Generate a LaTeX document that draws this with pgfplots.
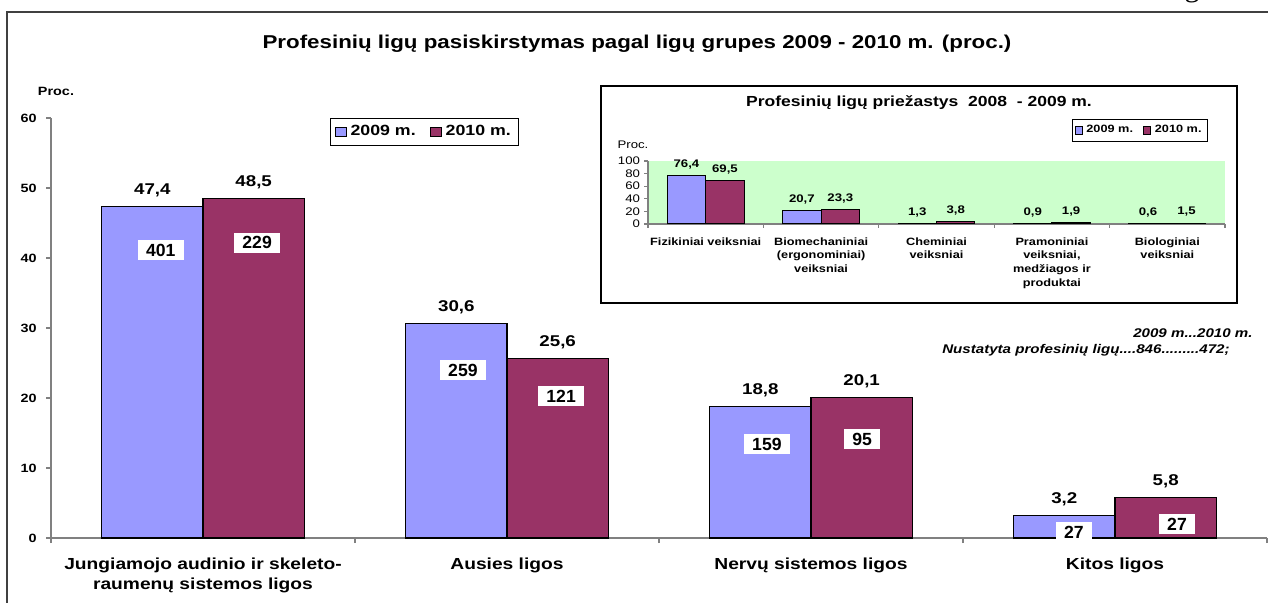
\documentclass[border=0pt]{standalone}
\usepackage{pgfplots}
\pgfplotsset{compat=1.18}
\usepackage{fontspec}
\setmainfont{Liberation Sans}[FakeStretch=1.2]
\newfontfamily\plainsf{Liberation Sans}
\newfontfamily\serifg{Liberation Serif}
\definecolor{barblue}{HTML}{9999FF}
\definecolor{barred}{HTML}{993366}
\definecolor{insetgreen}{HTML}{CCFFCC}
\definecolor{axisgray}{HTML}{808080}
\newcommand\fs[2]{\fontsize{#1}{#2}\selectfont}
\pgfplotsset{
  sqleg/.style={legend image code/.code={\draw[##1, draw=black, line width=0.4pt] (0pt,-2.4pt) rectangle (5.6pt,2.4pt);}},
  sqlegs/.style={legend image code/.code={\draw[##1, draw=black, line width=0.3pt] (0pt,-1.8pt) rectangle (3.6pt,1.8pt);}},
  vallab/.style={nodes near coords={\pgfmathprintnumber[use comma,fixed,fixed zerofill,precision=1]{\pgfplotspointmeta}},
    nodes near coords style={font=\bfseries\fs{#1}{9}, inner sep=0pt, anchor=south, text depth=0pt, text=black}},
}
\begin{document}
\begin{tikzpicture}
\useasboundingbox (0pt,0pt) rectangle (634pt,-301.5pt);
\clip (0pt,0pt) rectangle (634pt,-301.5pt);
% page fragment and frame
\node[font=\serifg\fs{15}{18}, anchor=base, inner sep=0pt] at (596pt,1.8pt) {g};
\draw[line width=0.9pt, black!75] (3.5pt,-302pt) -- (3.5pt,-6pt) -- (635pt,-6pt);
% main title
\node[font=\bfseries\fs{9.3}{11}] at (318.5pt,-22pt) {Profesinių ligų pasiskirstymas pagal ligų grupes 2009 - 2010 m. (proc.)};
\node[font=\bfseries\fs{6}{7}] at (28pt,-45.5pt) {Proc.};
% annotation
\node[anchor=east, inner sep=0pt, font=\bfseries\itshape\fs{6.3}{7}] at (626.5pt,-166.5pt) {2009 m...2010 m.};
\node[anchor=east, inner sep=0pt, font=\bfseries\itshape\fs{6.3}{7}] at (615pt,-175pt) {Nustatyta profesinių ligų....846.........472;};

\begin{axis}[
  at={(25.5pt,-269pt)}, anchor=south west, scale only axis,
  width=608pt, height=210pt,
  xmin=-0.5, xmax=3.5, ymin=0, ymax=60,
  clip=false,
  axis x line*=bottom, axis y line*=left,
  axis line style={-, draw=axisgray, line width=0.8pt},
  ytick={0,10,...,60},
  xtick={0,1,2,3},
  xticklabels={{Jungiamojo audinio ir skeleto-\\raumenų sistemos ligos},{Ausies ligos},{Nervų sistemos ligos},{Kitos ligos}},
  minor xtick={-0.5,0.5,1.5,2.5,3.5},
  major x tick style={draw=none},
  tick align=outside,
  tick style={draw=axisgray, line width=0.8pt},
  major tick length=2.5pt, minor tick length=2.5pt,
  /pgf/number format/assume math mode=true,
  xticklabel style={font=\bfseries\fs{8}{9.7}, align=center, anchor=north, inner sep=0pt, yshift=-7.5pt},
  yticklabel style={font=\bfseries\fs{6}{7}, inner sep=0pt, xshift=-4.5pt},
  legend style={at={(0.2294,1.0)}, anchor=north west, draw=black, line width=0.6pt,
    font=\bfseries\fs{7.4}{8.5}, inner xsep=2pt, inner ysep=1.3pt, /tikz/every even column/.append style={column sep=5pt}},
  legend columns=2,
  legend cell align=left,
]
\addplot[ybar, sqleg, bar width=0.3333, bar shift=0, fill=barblue, draw=black, line width=0.6pt,
  vallab=7.8, nodes near coords style={yshift=5.8pt}]
  coordinates {(-0.16667,47.4) (0.83333,30.6) (1.83333,18.8) (2.83333,3.2)};
\addplot[ybar, sqleg, bar width=0.3333, bar shift=0, fill=barred, draw=black, line width=0.6pt,
  vallab=7.8, nodes near coords style={yshift=5.8pt}]
  coordinates {(0.16667,48.5) (1.16667,25.6) (2.16667,20.1) (3.16667,5.8)};
\addplot[forget plot, draw=none, mark=none, nodes near coords, point meta=explicit symbolic,
  nodes near coords style={anchor=center, fill=white, text=black, font=\plainsf\bfseries\fs{8.8}{10},
    inner xsep=4.2pt, inner ysep=0pt, minimum height=10pt, text depth=0pt}]
  coordinates {(-0.139,41.14) [401] (0.178,42.19) [229] (0.855,24.0) [259] (1.178,20.29) [121]
               (1.855,13.43) [159] (2.168,14.14) [95] (2.865,0.86) [27] (3.204,2.0) [27]};
\legend{2009 m.,2010 m.}
\end{axis}

% inset
\draw[line width=0.75pt, fill=white] (300.5pt,-43pt) rectangle (618.5pt,-151.5pt);
\node[font=\bfseries\fs{7.3}{8.5}] at (459.5pt,-51.5pt) {Profesinių ligų priežastys\ \ 2008\ \ - 2009 m.};
\node[font=\fs{5.5}{6.5}] at (316.5pt,-72.5pt) {Proc.};
\begin{axis}[
  at={(324pt,-112pt)}, anchor=south west, scale only axis,
  width=288.5pt, height=31.5pt,
  xmin=-0.5, xmax=4.5, ymin=0, ymax=100,
  clip=false,
  axis background/.style={fill=insetgreen},
  axis x line*=bottom, axis y line*=left,
  axis line style={-, draw=axisgray, line width=0.6pt},
  ytick={0,20,...,100},
  xtick={0,1,2,3,4},
  xticklabels={{Fizikiniai veiksniai},{Biomechaniniai\\(ergonominiai)\\veiksniai},{Cheminiai\\veiksniai},{Pramoniniai\\veiksniai,\\medžiagos ir\\produktai},{Biologiniai\\veiksniai}},
  minor xtick={-0.5,0.5,1.5,2.5,3.5,4.5},
  major x tick style={draw=none},
  tick align=outside,
  tick style={draw=axisgray, line width=0.6pt},
  major tick length=1.8pt, minor tick length=1.8pt,
  /pgf/number format/assume math mode=true,
  xticklabel style={font=\bfseries\fs{5.3}{6.85}, align=center, anchor=north, inner sep=0pt, yshift=-4.8pt},
  yticklabel style={font=\fs{5.5}{6.5}, inner sep=0pt, xshift=-2pt},
  legend style={at={(0.735,1.667)}, anchor=north west, draw=black, line width=0.5pt,
    font=\bfseries\fs{5.3}{6}, inner xsep=1pt, inner ysep=0.8pt, /tikz/every even column/.append style={column sep=3pt}},
  legend columns=2,
]
\addplot[ybar, sqlegs, bar width=0.3333, bar shift=0, fill=barblue, draw=black, line width=0.5pt,
  vallab=5.5, nodes near coords style={yshift=3.8pt}]
  coordinates {(-0.16667,76.4) (0.83333,20.7) (1.83333,1.3) (2.83333,0.9) (3.83333,0.6)};
\addplot[ybar, sqlegs, bar width=0.3333, bar shift=0, fill=barred, draw=black, line width=0.5pt,
  vallab=5.5, nodes near coords style={yshift=3.8pt}]
  coordinates {(0.16667,69.5) (1.16667,23.3) (2.16667,3.8) (3.16667,1.9) (4.16667,1.5)};
\legend{2009 m.,2010 m.}
\end{axis}
\end{tikzpicture}
\end{document}
